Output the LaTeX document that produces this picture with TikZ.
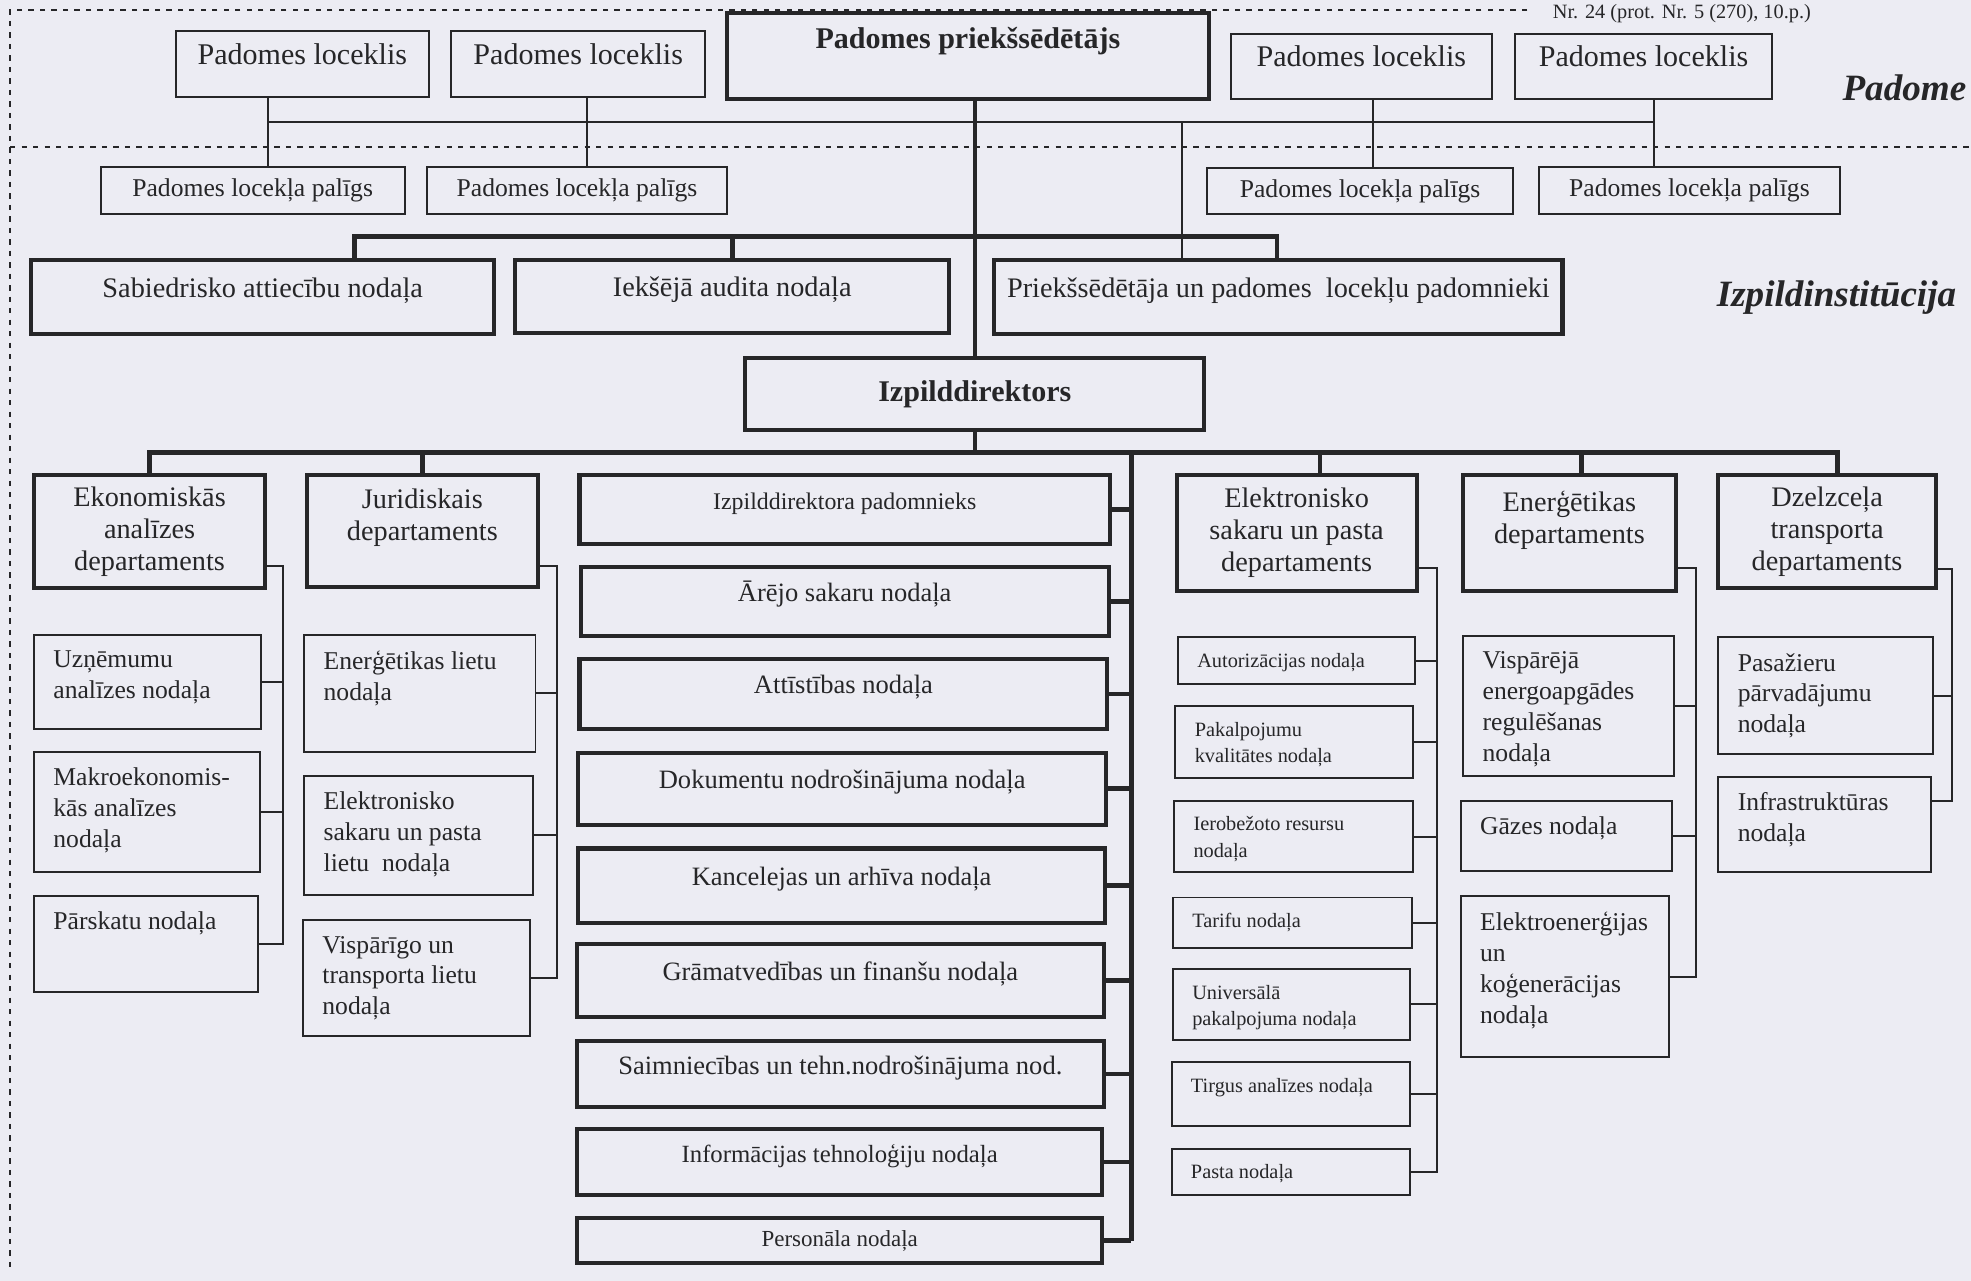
\documentclass[tikz,border=0pt]{standalone}
\usepackage{fontspec}
\setmainfont{Liberation Serif}

\definecolor{papirs}{RGB}{236,236,243}
\definecolor{tinte}{RGB}{38,38,40}

\newcommand{\kaste}[7]{% nosaukums, x1, y1, x2, y2, stils, teksts
  \node[#6, minimum width={(#4-#2)*0.025cm}, minimum height={(#5-#3)*0.025cm}] (#1) at ({(#2+#4)/2},{(#3+#5)/2}) {#7};}
\newcommand{\lkaste}[7]{% teksts kreisajā augšējā stūrī
  \node[#6, inner sep=0pt, minimum width={(#4-#2)*0.025cm}, minimum height={(#5-#3)*0.025cm}] (#1) at ({(#2+#4)/2},{(#3+#5)/2})
    {\parbox[c][\dimexpr0.025cm*(#5-#3)-18pt\relax][t]{\dimexpr0.025cm*(#4-#2)-22pt\relax}{\raggedright #7}};}

\tikzset{
  kaste/.style={draw=tinte, line width=1.1pt, text=tinte, align=center},
  bkaste/.style={kaste, line width=2.3pt},
  biezs/.style={draw=tinte, line width=2.6pt},
  tievs/.style={draw=tinte, line width=1.1pt},
  svitras/.style={draw=tinte, line width=1pt, dash pattern=on 3pt off 3.5pt},
  cent/.style={text height=9pt, text depth=9pt},
  liels/.style={font=\fontsize{17}{20}\selectfont},
  lielsb/.style={font=\fontsize{17}{20}\selectfont\bfseries},
  vid/.style={font=\fontsize{16}{19}\selectfont},
  dep/.style={font=\fontsize{16}{18.2}\selectfont},
  apak/.style={font=\fontsize{14.5}{17.5}\selectfont},
  stafs/.style={font=\fontsize{15}{18}\selectfont},
  mazs/.style={font=\fontsize{11.5}{15}\selectfont},
  virsraksts/.style={font=\fontsize{21}{24}\selectfont\bfseries\itshape, text=tinte},
}

\begin{document}
\begin{tikzpicture}[x=0.025cm, y=-0.025cm]
\fill[papirs] (0,0) rectangle (1568,1019);
\useasboundingbox (0,0) rectangle (1568,1019);
\draw[svitras] (1215,8) -- (8,8) -- (8,1010); % rāmis
\draw[svitras] (8,117) -- (1568,117);
\node[font=\fontsize{11.5}{14}\selectfont, text=tinte, anchor=base] (nr) at (1338,15) {Nr. 24 (prot. Nr. 5 (270), 10.p.)};

% padome
\kaste{pr}{578}{10}{962}{79}{bkaste,lielsb}{Padomes priekšsēdētājs\\\mbox{}}
\kaste{m1}{140}{25}{341}{77}{kaste,liels,cent}{Padomes loceklis}
\kaste{m2}{359}{25}{561}{77}{kaste,liels,cent}{Padomes loceklis}
\kaste{m3}{979}{27}{1187}{79}{kaste,liels,cent}{Padomes loceklis}
\kaste{m4}{1205}{27}{1410}{79}{kaste,liels,cent}{Padomes loceklis}
\kaste{a1}{80}{133}{322}{170}{kaste,apak}{Padomes locekļa palīgs}
\kaste{a2}{340}{133}{578}{170}{kaste,apak}{Padomes locekļa palīgs}
\kaste{a3}{960}{134}{1204}{170}{kaste,apak}{Padomes locekļa palīgs}
\kaste{a4}{1224}{133}{1464}{170}{kaste,apak}{Padomes locekļa palīgs}
\node[virsraksts] (padome) at (1515,70) {Padome};

\coordinate (k1) at (213,97);
\coordinate (k2) at (467,97);
\coordinate (k3) at (1092,97);
\coordinate (k4) at (1316,97);
\coordinate (kp) at (940,97);
\draw[tievs] (k1) -- (k4);
\foreach \m/\a/\k in {m1/a1/k1, m2/a2/k2, m3/a3/k3, m4/a4/k4}
  \draw[tievs] (\m.south -| \k) -- (\a.north -| \k);

% izpildinstitūcija
\kaste{sab}{25}{207}{393}{266}{bkaste,vid,cent}{Sabiedrisko attiecību nodaļa}
\kaste{iek}{410}{207}{755}{265}{bkaste,vid,cent}{Iekšējā audita nodaļa}
\kaste{pri}{791}{207}{1243}{266}{bkaste,vid,cent}{Priekšsēdētāja un padomes\ \ locekļu padomnieki}
\node[virsraksts] (izpinst) at (1461,237) {Izpildinstitūcija};
\kaste{izp}{593}{285}{958}{342}{bkaste,lielsb}{Izpilddirektors}

\draw[tievs] (kp) -- (pri.north -| kp);
\draw[biezs] (pr.south -| izp.north) -- (izp.north);
\coordinate (r1) at (282,188);
\coordinate (r3) at (1016,188);
\draw[biezs] (sab.north -| r1) -- (r1) -- (r3) -- (pri.north -| r3);
\draw[biezs] (iek.north) -- (iek.north |- r1);

% departamenti
\kaste{eko}{27}{378}{211}{468}{bkaste,dep}{Ekonomiskās\\analīzes\\departaments}
\kaste{jur}{244}{378}{428}{467}{bkaste,dep}{Juridiskais\\departaments\\\mbox{}}
\kaste{ele}{936}{378}{1127}{470}{bkaste,dep}{Elektronisko\\sakaru un pasta\\departaments}
\kaste{ene}{1164}{378}{1333}{470}{bkaste,dep}{Enerģētikas\\departaments\\\mbox{}}
\kaste{dze}{1367}{378}{1540}{468}{bkaste,dep}{Dzelzceļa\\transporta\\departaments}

\coordinate (h5) at (1462,360);
\coordinate (t3) at (1050,360);
\coordinate (t4) at (1258,360);
\draw[biezs] (eko.north) -- (eko.north |- h5) -- (h5) -- (dze.north -| h5);
\draw[biezs] (jur.north) -- (jur.north |- h5);
\draw[biezs] (t3) -- (ele.north -| t3);
\draw[biezs] (t4) -- (ene.north -| t4);
\draw[biezs] (izp.south) -- (izp.south |- h5);

% izpilddirektora nodaļas
\kaste{s1}{461}{378}{883}{433}{bkaste,cent,font=\fontsize{13.5}{16}\selectfont}{Izpilddirektora padomnieks}
\kaste{s2}{462}{451}{882}{506}{bkaste,stafs,cent}{Ārējo sakaru nodaļa}
\kaste{s3}{461}{524}{881}{580}{bkaste,stafs,cent}{Attīstības nodaļa}
\kaste{s4}{460}{599}{880}{656}{bkaste,stafs,cent}{Dokumentu nodrošinājuma nodaļa}
\kaste{s5}{460}{675}{879}{734}{bkaste,stafs,cent}{Kancelejas un arhīva nodaļa}
\kaste{s6}{459}{751}{878}{809}{bkaste,stafs,cent}{Grāmatvedības un finanšu nodaļa}
\kaste{s7}{459}{828}{878}{881}{bkaste,stafs,cent}{Saimniecības un tehn.nodrošinājuma nod.}
\kaste{s8}{459}{898}{877}{951}{bkaste,cent,font=\fontsize{14}{17}\selectfont}{Informācijas tehnoloģiju nodaļa}
\kaste{s9}{459}{969}{877}{1005}{bkaste,font=\fontsize{13}{16}\selectfont}{Personāla nodaļa}
\coordinate (sp) at (900,360);
\draw[biezs] (sp) -- (sp |- s9.east);
\foreach \s in {s1,s2,s3,s4,s5,s6,s7,s8,s9}
  \draw[biezs] (\s.east) -- (\s.east -| sp);

% ekonomiskās analīzes
\lkaste{e1}{27}{505}{208}{580}{kaste,apak}{Uzņēmumu\\analīzes nodaļa}
\lkaste{e2}{27}{598}{207}{694}{kaste,apak}{Makroekonomis-\\kās analīzes\\nodaļa}
\lkaste{e3}{27}{713}{205}{789}{kaste,apak}{Pārskatu nodaļa}
\coordinate (ekv) at (225,450);
\draw[tievs] (eko.east |- ekv) -- (ekv) -- (ekv |- e3.east) -- (e3.east);
\foreach \b in {e1,e2}
  \draw[tievs] (\b.east) -- (\b.east -| ekv);

% juridiskais
\lkaste{j1}{242}{505}{426}{598}{kaste,apak}{Enerģētikas lietu\\nodaļa}
\lkaste{j2}{242}{617}{424}{712}{kaste,apak}{Elektronisko\\sakaru un pasta\\lietu\ \ nodaļa}
\lkaste{j3}{241}{732}{422}{824}{kaste,apak}{Vispārīgo un\\transporta lietu\\nodaļa}
\coordinate (juv) at (443,450);
\draw[tievs] (jur.east |- juv) -- (juv) -- (juv |- j3.east) -- (j3.east);
\foreach \b in {j1,j2}
  \draw[tievs] (\b.east) -- (\b.east -| juv);

% elektronisko sakaru un pasta
\lkaste{l1}{937}{507}{1126}{544}{kaste,mazs}{Autorizācijas nodaļa}
\lkaste{l2}{935}{562}{1124}{619}{kaste,mazs}{Pakalpojumu\\kvalitātes nodaļa}
\lkaste{l3}{934}{637}{1124}{694}{kaste,mazs}{Ierobežoto resursu\\nodaļa}
\lkaste{l4}{933}{714}{1123}{754}{kaste,mazs}{Tarifu nodaļa}
\lkaste{l5}{933}{771}{1122}{827}{kaste,mazs}{Universālā\\pakalpojuma nodaļa}
\lkaste{l6}{932}{845}{1122}{896}{kaste,mazs}{Tirgus analīzes nodaļa}
\lkaste{l7}{932}{914}{1122}{951}{kaste,mazs}{Pasta nodaļa}
\coordinate (elv) at (1143,452);
\draw[tievs] (ele.east |- elv) -- (elv) -- (elv |- l7.east) -- (l7.east);
\foreach \b in {l1,l2,l3,l4,l5,l6}
  \draw[tievs] (\b.east) -- (\b.east -| elv);

% enerģētikas
\lkaste{n1}{1164}{506}{1332}{617}{kaste,apak}{Vispārējā\\energoapgādes\\regulēšanas\\nodaļa}
\lkaste{n2}{1162}{637}{1330}{693}{kaste,apak}{Gāzes nodaļa}
\lkaste{n3}{1162}{713}{1328}{841}{kaste,apak}{Elektroenerģijas\\un\\koģenerācijas\\nodaļa}
\coordinate (env) at (1349,452);
\draw[tievs] (ene.east |- env) -- (env) -- (env |- n3.east) -- (n3.east);
\foreach \b in {n1,n2}
  \draw[tievs] (\b.east) -- (\b.east -| env);

% dzelzceļa transporta
\lkaste{z1}{1367}{507}{1538}{600}{kaste,apak}{Pasažieru\\pārvadājumu\\nodaļa}
\lkaste{z2}{1367}{618}{1536}{694}{kaste,apak}{Infrastruktūras\\nodaļa}
\coordinate (dzv) at (1553,453);
\coordinate (dzb) at (1553,637);
\draw[tievs] (dze.east |- dzv) -- (dzv) -- (dzb) -- (dzb -| z2.east);
\draw[tievs] (z1.east) -- (z1.east -| dzv);
\end{tikzpicture}
\end{document}
